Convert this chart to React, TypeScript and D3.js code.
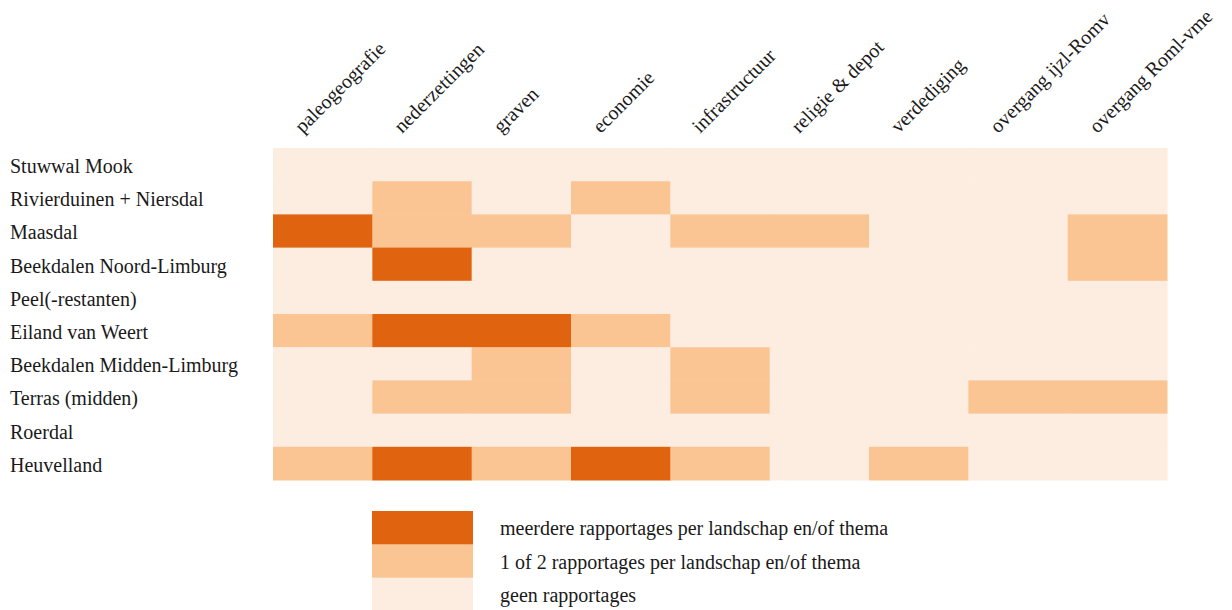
import React, { useEffect, useRef } from "react";
import * as d3 from "d3";

// landschappen (rijen)
const landscapes = [
  "Stuwwal Mook",
  "Rivierduinen + Niersdal",
  "Maasdal",
  "Beekdalen Noord-Limburg",
  "Peel(-restanten)",
  "Eiland van Weert",
  "Beekdalen Midden-Limburg",
  "Terras (midden)",
  "Roerdal",
  "Heuvelland",
];

// thema's (kolommen)
const themes = [
  "paleogeografie",
  "nederzettingen",
  "graven",
  "economie",
  "infrastructuur",
  "religie & depot",
  "verdediging",
  "overgang ijzl-Romv",
  "overgang Roml-vme",
];

// 0 = geen, 1 = 1 of 2, 2 = meerdere
const stuwwalMook = [0, 0, 0, 0, 0, 0, 0, 0, 0];
const rivierduinen = [0, 1, 0, 1, 0, 0, 0, 0, 0];
const maasdal = [2, 1, 1, 0, 1, 1, 0, 0, 1];
const beekdalenNoord = [0, 2, 0, 0, 0, 0, 0, 0, 1];
const peel = [0, 0, 0, 0, 0, 0, 0, 0, 0];
const eilandVanWeert = [1, 2, 2, 1, 0, 0, 0, 0, 0];
const beekdalenMidden = [0, 0, 1, 0, 1, 0, 0, 0, 0];
const terras = [0, 1, 1, 0, 1, 0, 0, 1, 1];
const roerdal = [0, 0, 0, 0, 0, 0, 0, 0, 0];
const heuvelland = [1, 2, 1, 2, 1, 0, 1, 0, 0];

const values = [
  stuwwalMook,
  rivierduinen,
  maasdal,
  beekdalenNoord,
  peel,
  eilandVanWeert,
  beekdalenMidden,
  terras,
  roerdal,
  heuvelland,
];

const legendLevels = [2, 1, 0];
const legendLabels = [
  "meerdere rapportages per landschap en/of thema",
  "1 of 2 rapportages per landschap en/of thema",
  "geen rapportages",
];

export default function App() {
  const svgRef = useRef<SVGSVGElement>(null);

  useEffect(() => {
    const w = 1232;
    const h = 610;
    const font = "'Liberation Serif', serif";
    const fs = 20;

    const svg = d3.select(svgRef.current).attr("width", w).attr("height", h);
    svg.selectAll("*").remove();

    const color = d3
      .scaleOrdinal<number, string>()
      .domain([0, 1, 2])
      .range(["#fdece0", "#fac593", "#e0630f"]);

    const x = d3.scaleBand<string>().domain(themes).range([273, 1167]).padding(0);
    const y = d3.scaleBand<string>().domain(landscapes).range([148, 480]).padding(0);

    // cellen
    const cells = landscapes.flatMap((l, i) =>
      themes.map((t, j) => ({ l, t, v: values[i][j] }))
    );
    svg
      .append("g")
      .selectAll("rect")
      .data(cells)
      .join("rect")
      .attr("x", (d) => x(d.t)!)
      .attr("y", (d) => y(d.l)!)
      .attr("width", x.bandwidth() + 0.5)
      .attr("height", y.bandwidth() + 0.5)
      .attr("fill", (d) => color(d.v));

    // rijlabels
    svg
      .append("g")
      .selectAll("text")
      .data(landscapes)
      .join("text")
      .attr("x", 10)
      .attr("y", (d) => y(d)! + y.bandwidth() / 2)
      .attr("dy", "0.42em")
      .attr("font-family", font)
      .attr("font-size", fs)
      .attr("fill", "#1a1a1a")
      .text((d) => d);

    // kolomlabels
    svg
      .append("g")
      .selectAll("text")
      .data(themes)
      .join("text")
      .attr(
        "transform",
        (d) => `translate(${x(d)! + x.bandwidth() / 2 - 20},${134}) rotate(-45)`
      )
      .attr("font-family", font)
      .attr("font-size", fs)
      .attr("fill", "#1a1a1a")
      .text((d) => d);

    // legenda
    const ly = d3.scaleBand<number>().domain([0, 1, 2]).range([511, 611]).padding(0);
    const legend = svg.append("g");
    legend
      .selectAll("rect")
      .data(legendLevels)
      .join("rect")
      .attr("x", 372)
      .attr("y", (d, i) => ly(i)!)
      .attr("width", 101)
      .attr("height", ly.bandwidth() + 0.5)
      .attr("fill", (d) => color(d));
    legend
      .selectAll("text")
      .data(legendLabels)
      .join("text")
      .attr("x", 500)
      .attr("y", (d, i) => ly(i)! + ly.bandwidth() / 2)
      .attr("dy", "0.38em")
      .attr("font-family", font)
      .attr("font-size", fs)
      .attr("fill", "#1a1a1a")
      .text((d) => d);
  }, []);

  return (
    <div style={{ position: "absolute", left: 0, top: 0 }}>
      <svg ref={svgRef} style={{ display: "block" }}></svg>
    </div>
  );
}
